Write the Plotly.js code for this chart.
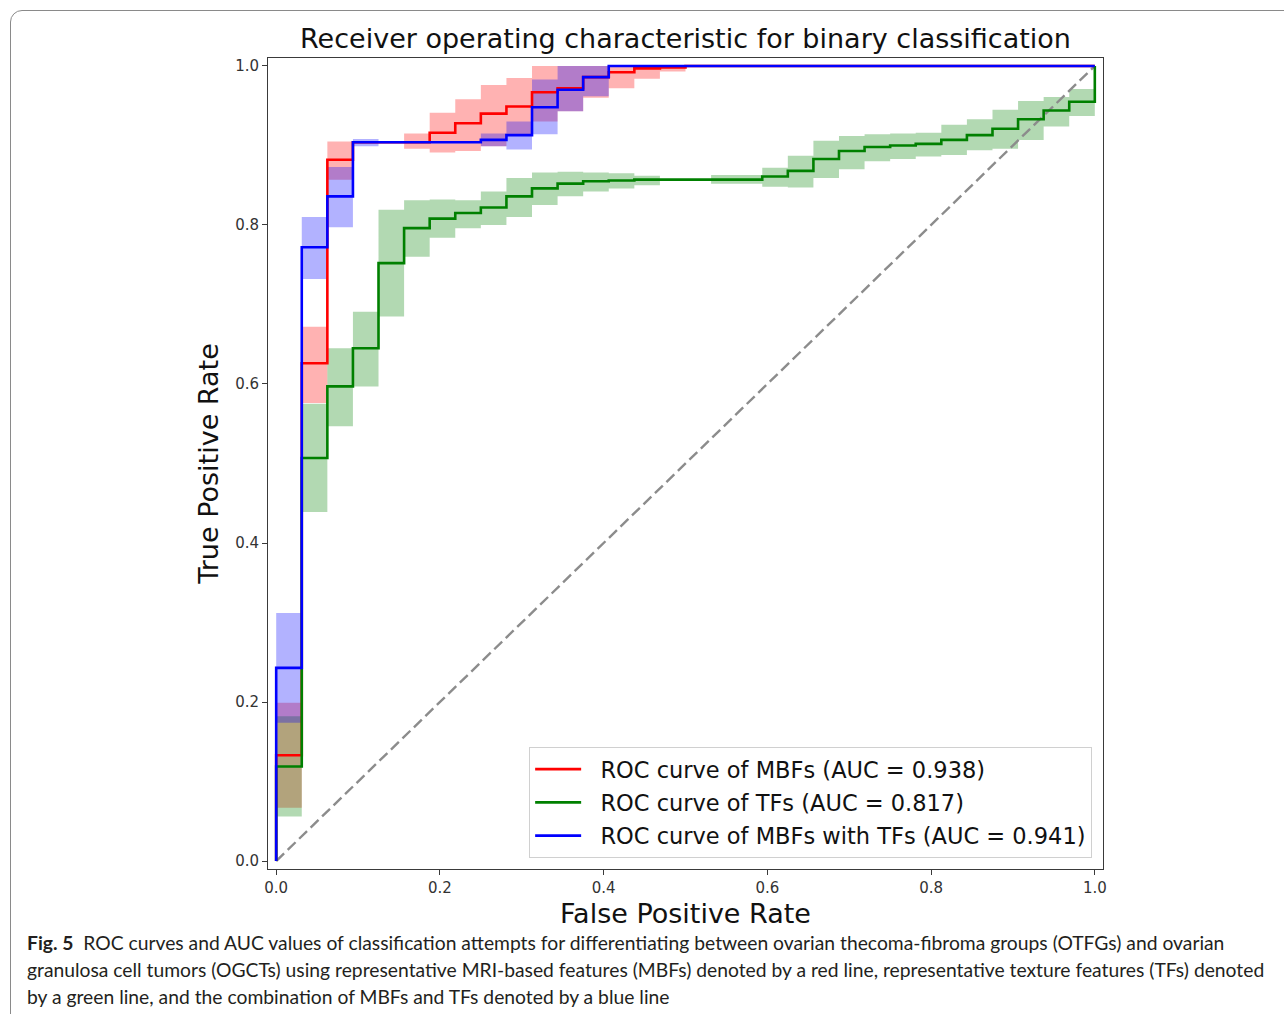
<!DOCTYPE html>
<html>
<head>
<meta charset="utf-8">
<script src="https://cdn.plot.ly/plotly-3.0.1.min.js"></script>
<style>
  html, body { margin: 0; padding: 0; background: #fff; }
  #wrap { position: relative; width: 1284px; height: 1014px; overflow: hidden; }
  #chart { position: absolute; left: 0; top: 0; width: 1284px; height: 1014px; }
  #frame { position: absolute; left: 10px; top: 10px; width: 1320px; height: 1040px;
           border: 1px solid #8a8a8a; border-radius: 12px; pointer-events: none; box-sizing: border-box; }
  .cap { position: absolute; left: 27px; white-space: nowrap; font-family: Lato, "Liberation Sans", sans-serif;
         font-size: 19.3px; line-height: 27px; color: #231f20; }
  .cap b { font-weight: 700; }
</style>
</head>
<body>
<div id="wrap">
  <div id="chart"></div>
  <div id="frame"></div>
  <div class="cap" id="cap1" style="top:929px"><b>Fig. 5</b>&nbsp; ROC curves and AUC values of classification attempts for differentiating between ovarian thecoma-fibroma groups (OTFGs) and ovarian</div>
  <div class="cap" id="cap2" style="top:956px">granulosa cell tumors (OGCTs) using representative MRI-based features (MBFs) denoted by a red line, representative texture features (TFs) denoted</div>
  <div class="cap" id="cap3" style="top:983px">by a green line, and the combination of MBFs and TFs denoted by a blue line</div>
</div>
<script>
// ---- data (interval starts, mean TPR, lower/upper band) ----
const redFpr = [0, 0.03125, 0.0625, 0.09375, 0.15625, 0.1875, 0.21875, 0.25, 0.28125, 0.3125, 0.34375, 0.375, 0.40625, 0.4375, 0.46875, 0.5];
const redTpr = [0.133, 0.626, 0.882, 0.904, 0.904, 0.916, 0.928, 0.940, 0.949, 0.967, 0.972, 0.986, 0.992, 0.997, 0.998, 1.0];
const redLo  = [0.067, 0.576, 0.857, 0.904, 0.896, 0.891, 0.893, 0.899, 0.913, 0.930, 0.943, 0.960, 0.972, 0.984, 0.993, 1.0];
const redHi  = [0.199, 0.672, 0.905, 0.904, 0.915, 0.941, 0.958, 0.976, 0.985, 1.0, 1.0, 1.0, 1.0, 1.0, 1.0, 1.0];

const greenFpr = [0, 0.03125, 0.0625, 0.09375, 0.125, 0.15625, 0.1875, 0.21875, 0.25, 0.28125, 0.3125, 0.34375, 0.375, 0.40625, 0.4375, 0.46875, 0.53125, 0.59375, 0.625, 0.65625, 0.6875, 0.71875, 0.75, 0.78125, 0.8125, 0.84375, 0.875, 0.90625, 0.9375, 0.96875];
const greenTpr = [0.119, 0.507, 0.597, 0.645, 0.752, 0.796, 0.808, 0.815, 0.822, 0.836, 0.846, 0.852, 0.855, 0.856, 0.857, 0.857, 0.857, 0.861, 0.868, 0.883, 0.893, 0.898, 0.900, 0.902, 0.907, 0.913, 0.921, 0.933, 0.944, 0.955];
const greenLo  = [0.056, 0.439, 0.547, 0.597, 0.685, 0.760, 0.784, 0.796, 0.800, 0.810, 0.825, 0.836, 0.842, 0.846, 0.850, 0.857, 0.852, 0.848, 0.847, 0.859, 0.870, 0.880, 0.883, 0.886, 0.888, 0.894, 0.896, 0.907, 0.924, 0.937];
const greenHi  = [0.182, 0.575, 0.645, 0.691, 0.819, 0.831, 0.832, 0.831, 0.842, 0.859, 0.866, 0.867, 0.866, 0.865, 0.862, 0.857, 0.863, 0.872, 0.887, 0.906, 0.912, 0.914, 0.915, 0.916, 0.926, 0.933, 0.945, 0.956, 0.961, 0.971];

const blueFpr = [0, 0.03125, 0.0625, 0.09375, 0.125, 0.25, 0.28125, 0.3125, 0.34375, 0.375, 0.40625];
const blueTpr = [0.243, 0.772, 0.836, 0.904, 0.904, 0.907, 0.913, 0.948, 0.970, 0.986, 1.0];
const blueLo  = [0.174, 0.732, 0.797, 0.899, 0.904, 0.899, 0.895, 0.914, 0.943, 0.962, 1.0];
const blueHi  = [0.312, 0.810, 0.873, 0.908, 0.904, 0.915, 0.930, 0.983, 1.0, 1.0, 1.0];

const seriesNames = ["ROC curve of MBFs (AUC = 0.938)", "ROC curve of TFs (AUC = 0.817)", "ROC curve of MBFs with TFs (AUC = 0.941)"];
const tickVals = [0, 0.2, 0.4, 0.6, 0.8, 1.0];
const tickText = ["0.0", "0.2", "0.4", "0.6", "0.8", "1.0"];

// ---- helpers that turn interval data into step paths ----
function stepLine(fpr, tpr) {
  const x = [0], y = [0];
  for (let i = 0; i < fpr.length; i++) {
    const end = i + 1 < fpr.length ? fpr[i + 1] : 1;
    x.push(fpr[i], end); y.push(tpr[i], tpr[i]);
  }
  x.push(1); y.push(1);
  return {x, y};
}
function stepBand(fpr, lo, hi) {
  const x = [], y = [];
  for (let i = 0; i < fpr.length; i++) {
    const end = i + 1 < fpr.length ? fpr[i + 1] : 1;
    x.push(fpr[i], end); y.push(hi[i], hi[i]);
  }
  for (let i = fpr.length - 1; i >= 0; i--) {
    const end = i + 1 < fpr.length ? fpr[i + 1] : 1;
    x.push(end, fpr[i]); y.push(lo[i], lo[i]);
  }
  return {x, y};
}

const curves = [
  {fpr: redFpr, tpr: redTpr, lo: redLo, hi: redHi, line: "#ff0000", fill: "rgba(255,0,0,0.3)"},
  {fpr: greenFpr, tpr: greenTpr, lo: greenLo, hi: greenHi, line: "#008000", fill: "rgba(0,128,0,0.3)"},
  {fpr: blueFpr, tpr: blueTpr, lo: blueLo, hi: blueHi, line: "#0000ff", fill: "rgba(0,0,255,0.3)"}
];

const traces = [];
curves.forEach(c => {
  const b = stepBand(c.fpr, c.lo, c.hi);
  traces.push({x: b.x, y: b.y, type: "scatter", mode: "lines", fill: "toself",
    fillcolor: c.fill, line: {width: 0, color: c.fill}, hoverinfo: "skip", showlegend: false});
});
traces.push({x: [0, 1], y: [0, 1], type: "scatter", mode: "lines",
  line: {color: "#8c8c8c", width: 2.4, dash: "11px,5px"}, showlegend: false, hoverinfo: "skip"});
curves.forEach((c, i) => {
  const l = stepLine(c.fpr, c.tpr);
  traces.push({x: l.x, y: l.y, type: "scatter", mode: "lines", name: "\u00a0\u00a0" + seriesNames[i],
    legendgroup: "g" + i, line: {color: c.line, width: 2.6}});
});

const axisCommon = {
  range: [-0.01, 1.01], tickvals: tickVals, ticktext: tickText,
  showgrid: false, zeroline: false, showline: true, mirror: true,
  linecolor: "#3a3a3a", linewidth: 1, ticks: "outside", ticklen: 5, tickcolor: "#3a3a3a",
  tickfont: {family: "DejaVu Sans", size: 15, color: "#333"}
};

const layout = {
  width: 1284, height: 1014,
  margin: {l: 268, r: 181, t: 58, b: 145},
  paper_bgcolor: "rgba(0,0,0,0)", plot_bgcolor: "#fff",
  font: {family: "DejaVu Sans", color: "#000"},
  title: {text: "Receiver operating characteristic for binary classification",
    font: {family: "DejaVu Sans", size: 27, color: "#111"},
    x: 0.5, xref: "paper", xanchor: "center", y: 1 - 39 / 1014, yref: "container", yanchor: "middle"},
  xaxis: Object.assign({}, axisCommon, {title: {text: "False Positive Rate", font: {family: "DejaVu Sans", size: 27, color: "#111"}, standoff: 8}}),
  yaxis: Object.assign({}, axisCommon, {title: {text: "True Positive Rate", font: {family: "DejaVu Sans", size: 27, color: "#111"}, standoff: 8}}),
  legend: {x: 0.987, y: 0.0136, xanchor: "right", yanchor: "bottom",
    bgcolor: "rgba(255,255,255,0.9)", bordercolor: "#d0d0d0", borderwidth: 1,
    font: {family: "DejaVu Sans", size: 22.5, color: "#111"}, itemwidth: 46, tracegroupgap: 1},
  showlegend: true
};

Plotly.newPlot("chart", traces, layout, {staticPlot: true, displayModeBar: false});
</script>
</body>
</html>
